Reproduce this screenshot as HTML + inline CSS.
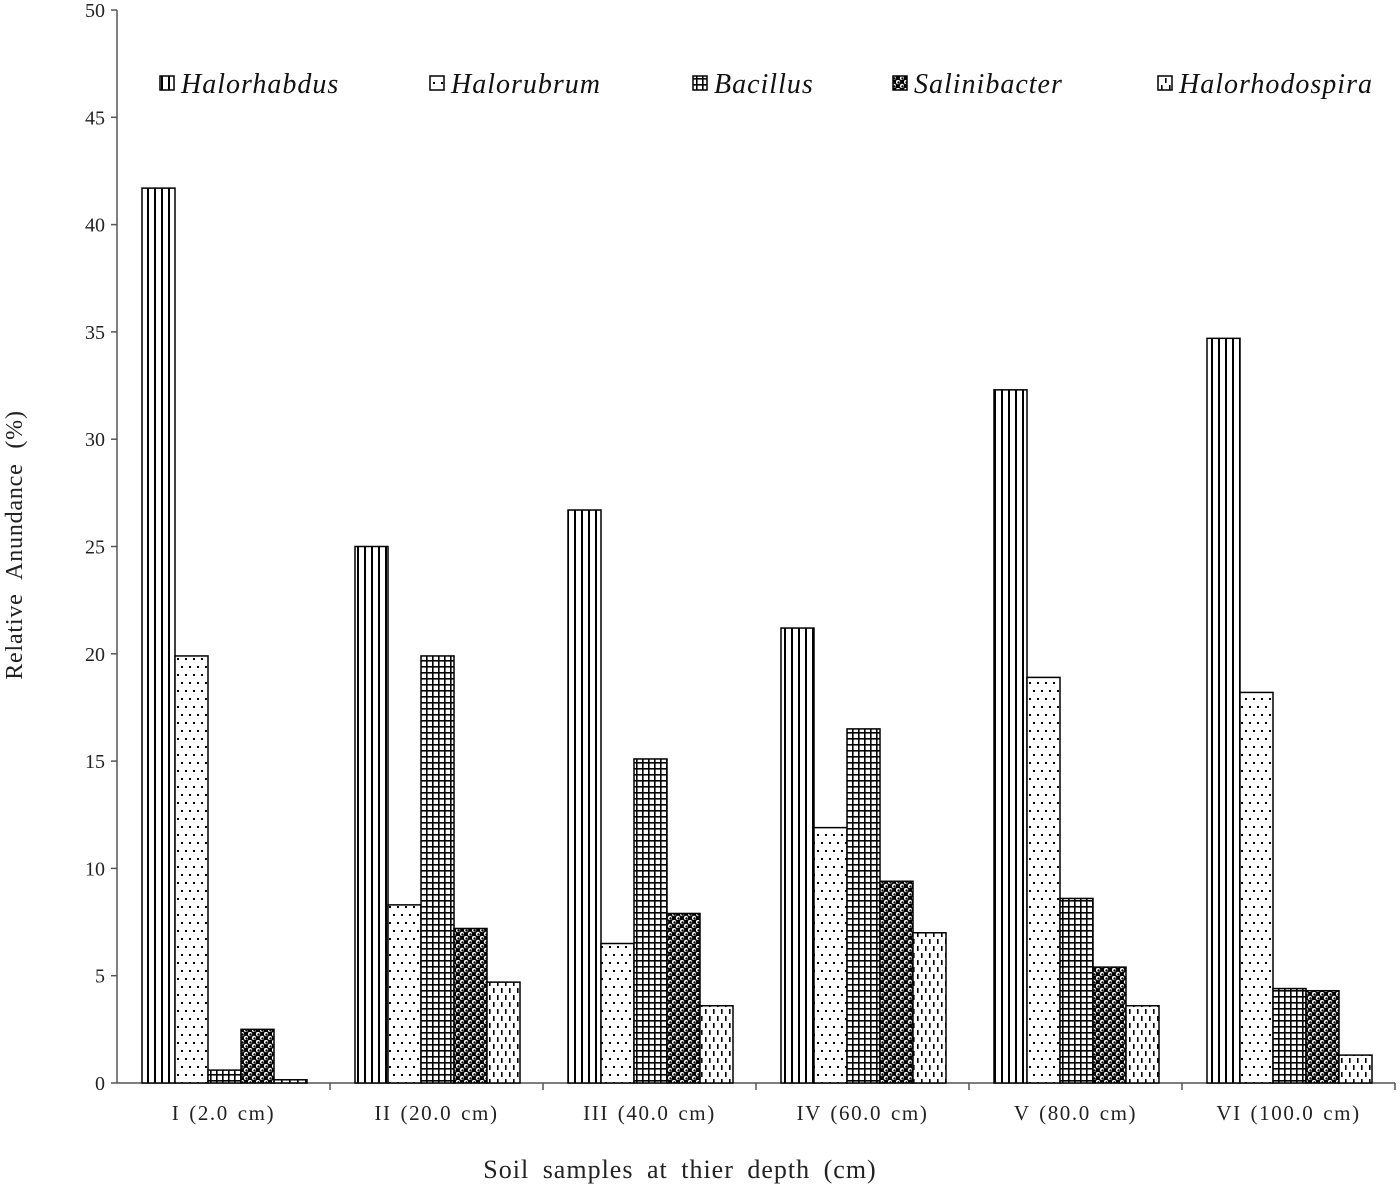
<!DOCTYPE html>
<html><head><meta charset="utf-8"><style>
html,body{margin:0;padding:0;background:#fff;}
svg{display:block;font-family:"Liberation Serif",serif;}
</style></head><body>
<svg id="chart" width="1400" height="1189">
<defs>
<pattern id="p0" width="7" height="10" patternUnits="userSpaceOnUse"><rect width="7" height="10" fill="#fff"/><rect x="0" y="0" width="2" height="10" fill="#000"/></pattern>
<pattern id="p1" width="8" height="16" patternUnits="userSpaceOnUse"><rect width="8" height="16" fill="#fff"/><rect x="1" y="2" width="2" height="2" fill="#000"/><rect x="5" y="10" width="2" height="2" fill="#000"/></pattern>
<pattern id="p2" width="6" height="6" patternUnits="userSpaceOnUse"><rect width="6" height="6" fill="#fff"/><rect x="0" y="0" width="6" height="1.6" fill="#000"/><rect x="0" y="0" width="1.6" height="6" fill="#000"/></pattern>
<pattern id="p3" width="8" height="8" patternUnits="userSpaceOnUse"><rect width="8" height="8" fill="#000"/><circle cx="2" cy="2" r="2.2" fill="#fff"/><circle cx="6" cy="6" r="2.2" fill="#fff"/><circle cx="2.5" cy="2.5" r="1.2" fill="#000"/><circle cx="6.5" cy="6.5" r="1.2" fill="#000"/></pattern>
<pattern id="p4" width="8" height="14" patternUnits="userSpaceOnUse"><rect width="8" height="14" fill="#fff"/><rect x="1" y="1" width="1.6" height="5" fill="#000"/><rect x="5" y="8" width="1.6" height="5" fill="#000"/></pattern>
</defs>
<g id="plot"></g>
</svg>
<script>
const categories=["I (2.0 cm)","II (20.0 cm)","III (40.0 cm)","IV (60.0 cm)","V (80.0 cm)","VI (100.0 cm)"];
const seriesNames=["Halorhabdus","Halorubrum","Bacillus","Salinibacter","Halorhodospira"];
const halorhabdus=[41.7,25.0,26.7,21.2,32.3,34.7];
const halorubrum=[19.9,8.3,6.5,11.9,18.9,18.2];
const bacillus=[0.6,19.9,15.1,16.5,8.6,4.4];
const salinibacter=[2.5,7.2,7.9,9.4,5.4,4.3];
const halorhodospira=[0.15,4.7,3.6,7.0,3.6,1.3];
const yTicks=[0,5,10,15,20,25,30,35,40,45,50];
const series=[halorhabdus,halorubrum,bacillus,salinibacter,halorhodospira];
const NS="http://www.w3.org/2000/svg";
const g=document.getElementById('plot');
const x0=117,x1=1395,y0=1083,yTop=10;
const y=v=>y0-(v/50)*(y0-yTop);
const gw=(x1-x0)/categories.length;
const bw=33;
function el(t,a,txt){const e=document.createElementNS(NS,t);for(const k in a)e.setAttribute(k,a[k]);if(txt!==undefined)e.textContent=txt;g.appendChild(e);return e;}
let e=el('line',{x1:x0,y1:yTop,x2:x0,y2:y0,stroke:'#555','stroke-width':1.5});


e=el('line',{x1:x0,y1:y0,x2:x1,y2:y0,stroke:'#555','stroke-width':1.5});


yTicks.forEach(t=>{
 el('line',{x1:x0-6,y1:y(t),x2:x0,y2:y(t),stroke:'#555','stroke-width':1.5});
 const l=el('text',{x:x0-12,y:y(t)+7,'text-anchor':'end','font-size':20,fill:'#222'},t);
 
 
});
categories.forEach((c,i)=>{
 const gx=x0+i*gw;
 el('line',{x1:gx+gw,y1:y0,x2:gx+gw,y2:y0+7,stroke:'#555','stroke-width':1.5});
 const l=el('text',{x:gx+gw/2,y:y0+37,'text-anchor':'middle','font-size':21,'letter-spacing':1.6,'word-spacing':2,fill:'#222'},c);
 
 
 series.forEach((s,j)=>{
  const bx=gx+25+j*bw;
  const r=el('rect',{x:bx,y:y(s[i]),width:bw,height:y0-y(s[i]),fill:'url(#p'+j+')',stroke:'#000','stroke-width':1.5});
  
  
 });
});
const lx=[160,430,693,893,1158];
seriesNames.forEach((n,j)=>{
 const s=el('rect',{x:lx[j],y:76,width:14,height:14,fill:'url(#p'+j+')',stroke:'#000','stroke-width':1.5});
 
 
 const t=el('text',{x:lx[j]+21,y:93,'font-size':28,'letter-spacing':1,'font-style':'italic',fill:'#111'},n);
 
 
});
let t=el('text',{x:680,y:1178,'text-anchor':'middle','font-size':26,'letter-spacing':1,'word-spacing':6,fill:'#222'},'Soil samples at thier depth (cm)');


t=el('text',{x:0,y:0,'text-anchor':'middle','font-size':24,'letter-spacing':0.8,'word-spacing':8,fill:'#222',transform:'translate(22,545) rotate(-90)'},'Relative Anundance (%)');


</script>
</body></html>
